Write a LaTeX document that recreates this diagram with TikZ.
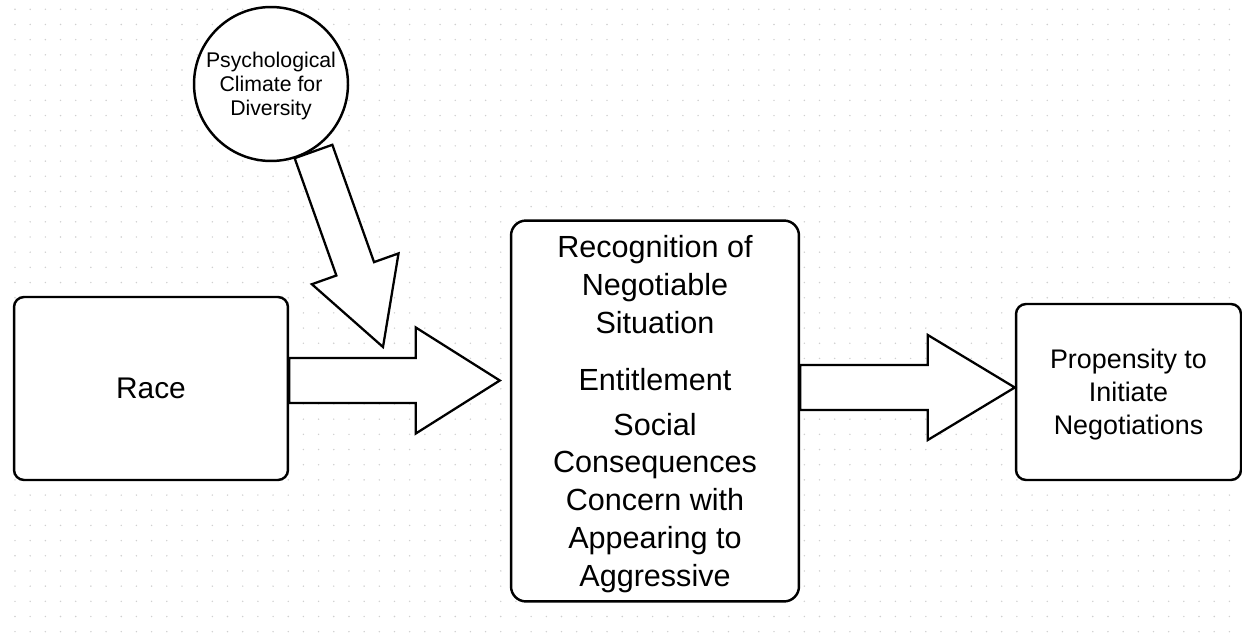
\documentclass[tikz,border=0pt]{standalone}
\usepackage{fontspec}
\setmainfont{Liberation Sans}
\usetikzlibrary{calc}

\definecolor{griddot}{HTML}{CFCFCF}

% flecha gruesa: semiancho del cuerpo, semiancho de la punta, largo de la punta, origen, destino
\newcommand{\fatarrow}[5]{%
  \coordinate (hb) at ($(#5)!#3!(#4)$);
  \draw[blockarrow] ($(#4)!#1!90:(#5)$) -- ($(hb)!#1!-90:(#4)$) -- ($(hb)!#2!-90:(#4)$) -- (#5)
    -- ($(hb)!#2!90:(#4)$) -- ($(hb)!#1!90:(#4)$) -- ($(#4)!#1!-90:(#5)$) -- cycle;
}

\begin{document}
\begin{tikzpicture}[x=0.02cm,y=-0.02cm,
    box/.style={draw,line width=1.4pt,fill=white,rounded corners=0.2cm,inner sep=0pt,align=center},
    blockarrow/.style={draw,line width=1.3pt,fill=white,line join=miter}]
    % Fondo y rejilla de puntos
    \fill[white] (0,0) rectangle (1242,635);
    \useasboundingbox (0,0) rectangle (1242,635);
    \foreach \i in {0,...,80}
        \foreach \j in {0,...,41}
            \fill[griddot] (15+15.18*\i,9.3+15.18*\j) circle (0.016cm);

    % Cajas
    \node[box,minimum width=5.48cm,minimum height=3.66cm,text depth=-2pt,
        font=\fontsize{17}{20}\selectfont] (race) at (151,388.5) {Race};
    \node[box,minimum width=5.76cm,minimum height=7.62cm,rounded corners=0.3cm,text depth=-1.4pt,
        font=\fontsize{17.4}{21.5}\selectfont] (recog) at (655,411)
        {Recognition of\\Negotiable\\Situation\\[10.8pt]Entitlement\\[4pt]Social\\Consequences\\Concern with\\Appearing to\\Aggressive};
    \node[box,minimum width=4.5cm,minimum height=3.52cm,text depth=-0.8pt,
        font=\fontsize{15.3}{18.7}\selectfont] (prop) at (1128.5,392) {Propensity to\\Initiate\\Negotiations};
    \node[draw,circle,line width=1.4pt,fill=white,minimum size=3.08cm,inner sep=0pt,align=center,
        text depth=-0.9pt,font=\fontsize{12.1}{13.6}\selectfont] (climate) at (271,84)
        {Psychological\\Climate for\\Diversity};

    % Extremos de las flechas
    \coordinate (c1) at (313.5,151.5);
    \coordinate (c2) at (383,347);
    \coordinate (r1) at ($(race.east)+(0,-8)$);
    \coordinate (r2) at ($(recog.west |- r1)+(-10,0)$);
    \coordinate (p1) at ($(prop.west)+(0,-4.5)$);
    \coordinate (p2) at (recog.east |- p1);

    % Flechas
    \fatarrow{0.4cm}{0.92cm}{1.66cm}{c1}{c2}
    \fatarrow{0.45cm}{1.06cm}{1.68cm}{r1}{r2}
    \fatarrow{0.45cm}{1.05cm}{1.74cm}{p2}{p1}
\end{tikzpicture}
\end{document}
